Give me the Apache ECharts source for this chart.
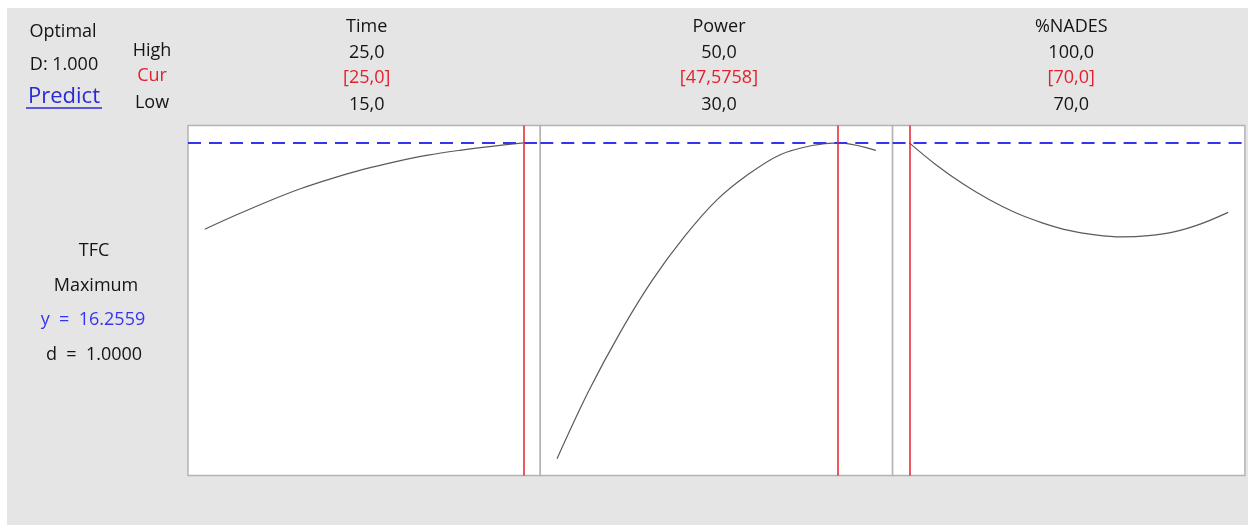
<!DOCTYPE html>
<html>
<head>
<meta charset="utf-8">
<title>Response Optimizer – TFC</title>
<script src="https://cdn.jsdelivr.net/npm/echarts@6/dist/echarts.min.js"></script>
<style>
  html, body { margin: 0; padding: 0; background: #ffffff; }
  #chart { width: 1248px; height: 525px; }
</style>
</head>
<body>
<div id="chart"></div>
<script>
// Factors and their settings
const factorNames = ['Time', 'Power', '%NADES'];
const lowValues = [15, 30, 70];
const highValues = [25, 50, 100];
const curValues = [25, 47.5758, 70];
const highLabels = ['25,0', '50,0', '100,0'];
const curLabels = ['[25,0]', '[47,5758]', '[70,0]'];
const lowLabels = ['15,0', '30,0', '70,0'];

// Predicted TFC along each factor (others held at current settings)
const timeX = [15, 16, 17, 18, 19, 20, 21, 22, 23, 24, 25];
const timeTFC = [14.10, 14.46, 14.80, 15.11, 15.37, 15.60, 15.79, 15.95, 16.07, 16.17, 16.2559];

const powerX = [30, 32, 34, 36, 38, 40, 42, 44, 46, 47.5758, 48, 50];
const powerTFC = [8.37, 10.07, 11.55, 12.84, 13.92, 14.82, 15.47, 15.96, 16.19, 16.2559, 16.25, 16.07];

const nadesX = [70, 72.5, 75, 77.5, 80, 82.5, 85, 87.5, 90, 92.5, 95, 97.5, 100];
const nadesTFC = [16.2559, 15.71, 15.24, 14.84, 14.51, 14.26, 14.07, 13.96, 13.91, 13.94, 14.04, 14.24, 14.52];

const responseName = 'TFC';
const goalName = 'Maximum';
const yValue = 16.2559;
const dValue = '1.0000';
const compositeD = '1.000';

const curves = [
  timeX.map((x, i) => [x, timeTFC[i]]),
  powerX.map((x, i) => [x, powerTFC[i]]),
  nadesX.map((x, i) => [x, nadesTFC[i]])
];

// Panel geometry
const panelLeft = 188, panelTop = 125.5, panelW = 352.3, panelH = 350;
const padFrac = 16.75 / 318.8;

const FONT = "'Open Sans', 'Noto Sans', sans-serif";
const TXT = '#141414', RED = '#e4202e', BLUE = '#3434f2';

const grids = [], xAxes = [], yAxes = [], series = [];
for (let i = 0; i < 3; i++) {
  grids.push({
    left: panelLeft + i * panelW, top: panelTop, width: panelW, height: panelH,
    show: true, backgroundColor: '#ffffff', borderColor: '#b3b3b3', borderWidth: 1.5
  });
  const span = highValues[i] - lowValues[i];
  xAxes.push({
    type: 'value', gridIndex: i, show: false,
    min: lowValues[i] - span * padFrac, max: highValues[i] + span * padFrac
  });
  yAxes.push({ type: 'value', gridIndex: i, show: false, min: 7.95, max: 16.69 });
  series.push({
    type: 'line', xAxisIndex: i, yAxisIndex: i, data: curves[i],
    showSymbol: false, smooth: 0.35, silent: true, animation: false,
    lineStyle: { color: '#5a5a5a', width: 1.2 },
    markLine: {
      silent: true, symbol: 'none', animation: false,
      label: { show: false },
      data: [
        { yAxis: yValue, lineStyle: { color: BLUE, width: 1.8, type: [13, 8] } },
        { xAxis: curValues[i], lineStyle: { color: RED, width: 1.5, type: 'solid' } }
      ]
    }
  });
}

function label(text, x, y, color, size, extra) {
  return Object.assign({
    type: 'text', x: x, y: y, silent: true,
    style: {
      text: text, fill: color || TXT, font: (size || 18) + 'px ' + FONT,
      textAlign: 'center', textVerticalAlign: 'middle'
    }
  }, extra || {});
}

const graphics = [
  { type: 'rect', z: -10, silent: true, shape: { x: 7, y: 8, width: 1241, height: 517 }, style: { fill: '#e5e5e5' } },
  label('Optimal', 63, 31.5),
  label('D: ' + compositeD, 64, 64.5),
  label('Predict', 64, 96.5, '#2a2ad6', 22),
  { type: 'line', silent: true, shape: { x1: 26, y1: 108, x2: 102, y2: 108 }, style: { stroke: '#2a2ad6', lineWidth: 1.5 } },
  label('High', 152, 50.5),
  label('Cur', 152, 76, RED),
  label('Low', 152, 102.5),
  label(responseName, 94, 251),
  label(goalName, 96, 286),
  label('y  =  ' + yValue.toFixed(4), 93, 319.5, BLUE),
  label('d  =  ' + dValue, 94, 355)
];
for (let i = 0; i < 3; i++) {
  const cx = panelLeft + panelW * (i + 0.5) + 2.5;
  graphics.push(label(factorNames[i], cx, 26.5));
  graphics.push(label(highLabels[i], cx, 52.5));
  graphics.push(label(curLabels[i], cx, 78, RED));
  graphics.push(label(lowLabels[i], cx, 105));
}

const chart = echarts.init(document.getElementById('chart'), null, { renderer: 'canvas' });
chart.setOption({
  backgroundColor: '#ffffff',
  animation: false,
  grid: grids,
  xAxis: xAxes,
  yAxis: yAxes,
  series: series,
  graphic: graphics
});
</script>
</body>
</html>
